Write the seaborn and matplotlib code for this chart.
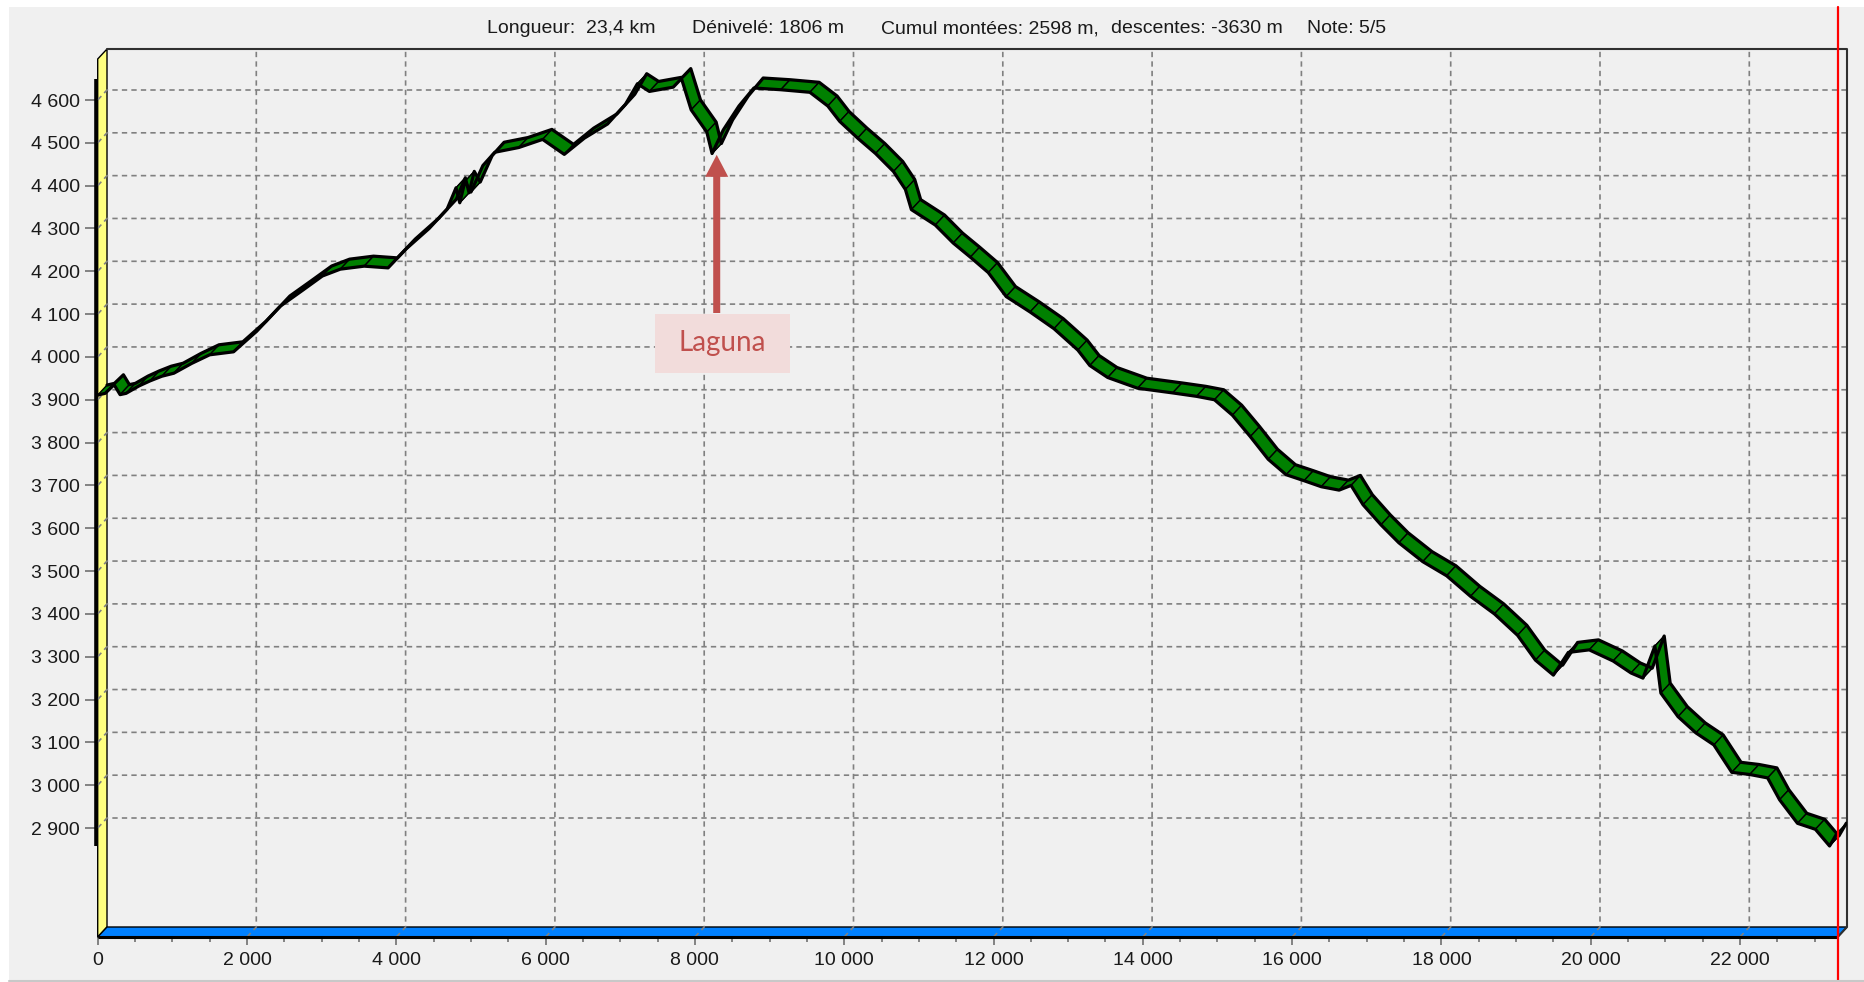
import numpy as np
import pandas as pd
import matplotlib
matplotlib.use("Agg")
import matplotlib.pyplot as plt
from matplotlib.collections import PolyCollection
from matplotlib.patches import Polygon, Rectangle, FancyArrow
from matplotlib.lines import Line2D
from matplotlib.ticker import FixedLocator, MultipleLocator
import seaborn as sns

# ---------------- data ----------------
distance_m = [0, 100, 220, 300, 380, 550, 700, 860, 1020, 1260, 1500, 1820, 2130, 2450,
              2740, 3010, 3250, 3570, 3890, 4130, 4440, 4680, 4800, 4850, 4920, 5000,
              5160, 5320, 5640, 5960, 6250, 6520, 6830, 7070, 7230, 7390, 7710, 7820,
              7950, 8160, 8230, 8380, 8590, 8790, 9150, 9540, 9780, 9940, 10180, 10420,
              10660, 10820, 10900, 11220, 11460, 11690, 11930, 12170, 12490, 12810,
              13130, 13290, 13530, 13930, 14400, 14720, 14960, 15200, 15440, 15680,
              15920, 16160, 16390, 16630, 16790, 16950, 17190, 17430, 17750, 18070,
              18390, 18710, 19020, 19260, 19500, 19700, 19980, 20300, 20540, 20700,
              20860, 20940, 21170, 21410, 21650, 21890, 22130, 22370, 22530, 22770,
              23010, 23200, 23300]
elevation_m = [3911, 3915, 3935, 3912, 3915, 3932, 3944, 3955, 3962, 3985, 4005, 4012,
               4060, 4119, 4155, 4189, 4205, 4212, 4208, 4252, 4300, 4345, 4395, 4360,
               4410, 4385, 4447, 4478, 4489, 4508, 4473, 4511, 4544, 4590, 4638, 4620,
               4630, 4650, 4577, 4525, 4475, 4530, 4586, 4628, 4624, 4618, 4586, 4550,
               4511, 4475, 4433, 4391, 4344, 4308, 4266, 4233, 4197, 4141, 4105, 4066,
               4016, 3980, 3952, 3927, 3916, 3908, 3900, 3864, 3814, 3761, 3725, 3711,
               3697, 3689, 3700, 3655, 3608, 3566, 3522, 3489, 3441, 3400, 3350, 3292,
               3257, 3310, 3316, 3290, 3262, 3250, 3325, 3215, 3160, 3122, 3094, 3030,
               3025, 3017, 2966, 2911, 2897, 2858, 2888]
x_ticks = list(range(0, 22001, 2000))
y_ticks = list(range(2900, 4601, 100))
stats_labels = ["Longueur:  23,4 km", "Dénivelé: 1806 m", "Cumul montées: 2598 m,",
                "descentes: -3630 m", "Note: 5/5"]
annotation_text = "Laguna"
laguna_distance_m = 8230
route_end_m = 23308

df = pd.DataFrame({"distance": distance_m, "elevation": elevation_m})

# ---------------- style ----------------
sns.set_style("white")
plt.rcParams["font.family"] = ["Liberation Sans", "DejaVu Sans"]

W, H, DPI = 1865, 982, 100
fig = plt.figure(figsize=(W / DPI, H / DPI), dpi=DPI, facecolor="white")

# gray window panel
fig.patches.append(Rectangle((9 / W, 2 / H), (W - 9) / W, 973 / H, transform=fig.transFigure,
                             facecolor="#f0f0f0", edgecolor="none", zorder=-10))
fig.lines.append(Line2D([9 / W, 1], [1.5 / H, 1.5 / H], transform=fig.transFigure,
                        color="#c8c8c8", lw=1.5))

# geometry (pixels -> data scale)
PXX = 0.07465      # px per metre (x)
PXY = 0.42824      # px per metre (y)
AX_L, AX_R, AX_T, AX_B = 97.7, 1847, 49, 937
DX = 9.3 / PXX
DY = 10 / PXY
XMAX = (AX_R - AX_L) / PXX
XF = XMAX - DX
Y0 = 4600 - (AX_B - 100) / PXY
YMAX = 4600 + (100 - AX_T) / PXY

ax = fig.add_axes([AX_L / W, (H - AX_B) / H, (AX_R - AX_L) / W, (AX_B - AX_T) / H])
ax.set_facecolor("none")
ax.set_xlim(0, XMAX)
ax.set_ylim(Y0, YMAX)
for s in ax.spines.values():
    s.set_visible(False)

# left wall (yellow) and floor (blue)
ax.add_patch(Polygon([(0, Y0), (0, YMAX - DY), (DX, YMAX), (DX, Y0 + DY)], closed=True,
                     facecolor="#ffff80", edgecolor="black", lw=1, zorder=1, clip_on=False))
ax.add_patch(Polygon([(0, Y0), (XF, Y0), (XMAX, Y0 + DY), (DX, Y0 + DY)], closed=True,
                     facecolor="#0080ff", edgecolor="black", lw=1, zorder=1, clip_on=False))
ax.plot([0, XF], [Y0, Y0], color="black", lw=2.2, solid_capstyle="butt", zorder=2, clip_on=False)

# back frame
ax.plot([DX, XMAX, XMAX, XF], [YMAX, YMAX, Y0 + DY, Y0], color="#303030", lw=1.5,
        zorder=2, clip_on=False)

# grid
grid_kw = dict(color="#808080", lw=1.2, dashes=(3.2, 2.5), zorder=1.5, clip_on=False)
for t in y_ticks:
    ax.plot([0, DX, XMAX], [t, t + DY, t + DY], **grid_kw)
for t in x_ticks[1:]:
    ax.plot([t, t + DX, t + DX], [Y0, Y0 + DY, YMAX], **grid_kw)

# data range bar on the wall
ax.plot([-1.2 / PXX, -1.2 / PXX], [df.elevation.min(), df.elevation.max()], color="black",
        lw=2.6, solid_capstyle="butt", zorder=3, clip_on=False)

# ribbon (3D-like band)
xs = df.distance.to_numpy(float)
ys = df.elevation.to_numpy(float)
verts = [[(xs[i], ys[i]), (xs[i + 1], ys[i + 1]), (xs[i + 1] + DX, ys[i + 1] + DY),
          (xs[i] + DX, ys[i] + DY)] for i in range(len(xs) - 1)]
ax.add_collection(PolyCollection(verts, facecolors="#008000", edgecolors="black",
                                 linewidths=1.0, zorder=4))
sns.lineplot(data=df, x="distance", y="elevation", ax=ax, color="black", lw=2.3,
             sort=False, estimator=None, zorder=5)
back = df.assign(distance=df.distance + DX, elevation=df.elevation + DY)
sns.lineplot(data=back, x="distance", y="elevation", ax=ax, color="black", lw=2.3,
             sort=False, estimator=None, zorder=5)
ax.set_xlabel("")
ax.set_ylabel("")

# ticks
fmt = lambda v: f"{v:,}".replace(",", " ")
ax.set_xticks(x_ticks)
ax.set_xticklabels([fmt(v) for v in x_ticks])
ax.xaxis.set_minor_locator(MultipleLocator(500))
ax.set_yticks(y_ticks)
ax.set_yticklabels([fmt(v) for v in y_ticks])
ax.yaxis.set_minor_locator(FixedLocator(list(range(2860, 4660, 20))))
ax.tick_params(axis="x", which="major", length=6, width=1.2, color="#707070", pad=4.5,
               labelsize=14, labelcolor="#1a1a1a", bottom=True)
ax.tick_params(axis="x", which="minor", length=3.5, width=1.2, color="#707070", bottom=True)
ax.tick_params(axis="y", which="major", length=9.4, width=1.2, color="#707070", pad=3.4,
               labelsize=14, labelcolor="#1a1a1a", left=True)
ax.tick_params(axis="y", which="minor", length=1.5, width=1.5, color="#404040", left=True)

# header statistics
header_x = [487, 692, 881, 1111, 1307]
for px, txt in zip(header_x, stats_labels):
    fig.text(px / W, 1 - 28.5 / H, txt, ha="left", va="center", fontsize=14, color="#1a1a1a")

# Laguna annotation
li = distance_m.index(laguna_distance_m)
tip_x = distance_m[li] + DX / 2
tip_y = elevation_m[li] - 3
tail_y = 4600 - (313 - 100) / PXY
ax.add_patch(FancyArrow(tip_x, tail_y, 0, tip_y - tail_y, width=7 / PXX, head_width=23 / PXX,
                        head_length=22 / PXY, length_includes_head=True,
                        facecolor="#c0504d", edgecolor="none", zorder=7))
bx0, bx1 = (655 - AX_L) / PXX, (790 - AX_L) / PXX
by0, by1 = 4600 - (373 - 100) / PXY, 4600 - (314 - 100) / PXY
ax.add_patch(Rectangle((bx0, by0), bx1 - bx0, by1 - by0, facecolor="#f2dcdb",
                       edgecolor="none", zorder=7))
ax.text((bx0 + bx1) / 2, (by0 + by1) / 2, annotation_text, ha="center", va="center",
        fontsize=20, color="#c0504d", family=["Lato", "DejaVu Sans"], zorder=8)

# red cursor line at route end
ax.axvline(route_end_m, ymin=(AX_B - H) / (AX_B - AX_T), ymax=(AX_B - 7) / (AX_B - AX_T),
           color="#ff0000", lw=1.6, clip_on=False, zorder=9)

fig.savefig("out.png", dpi=DPI, facecolor="white")
